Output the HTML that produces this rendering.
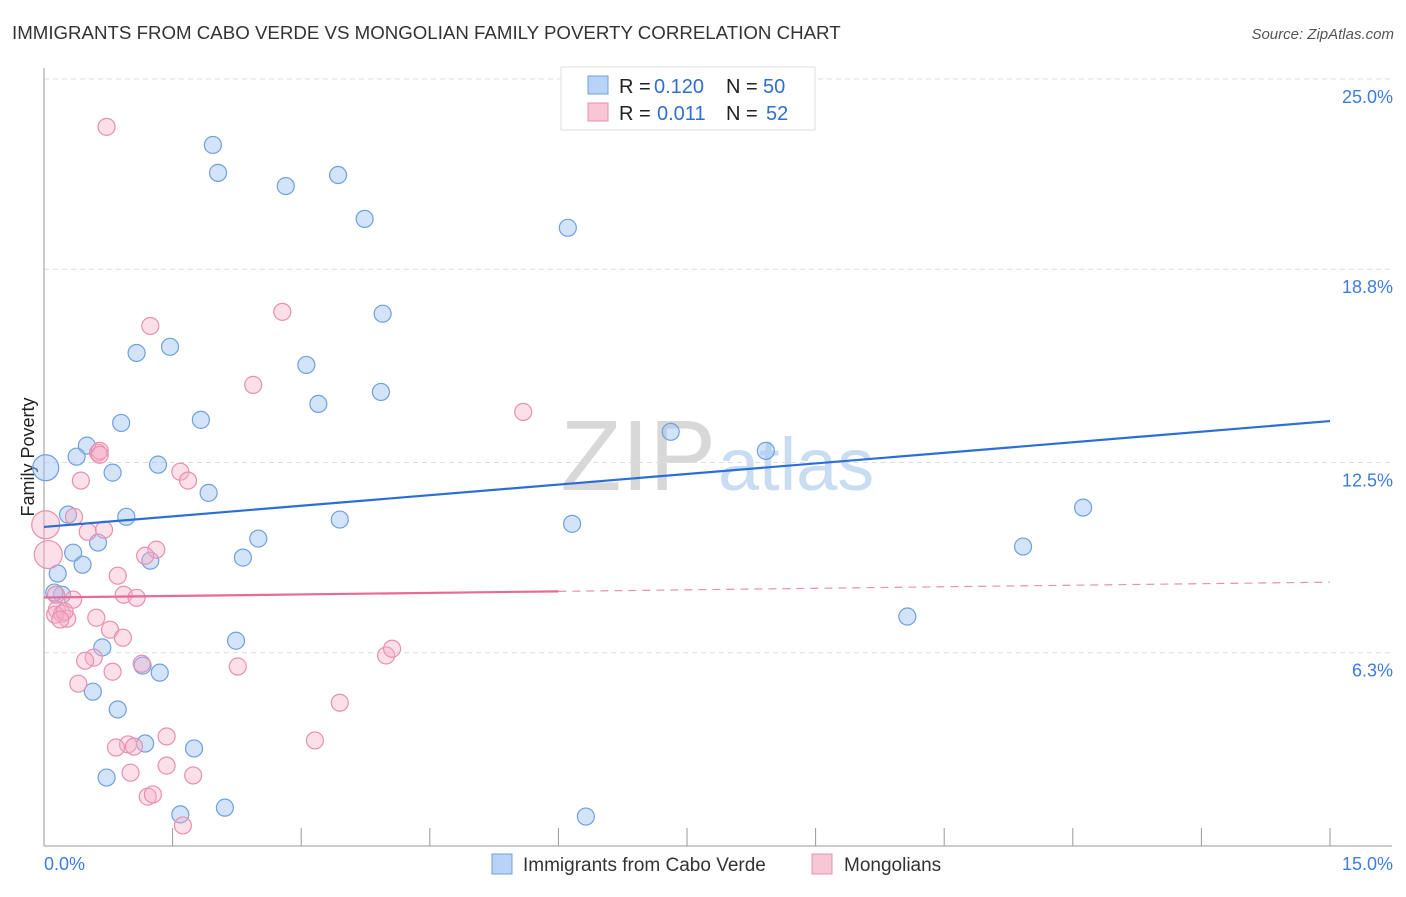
<!DOCTYPE html>
<html><head><meta charset="utf-8">
<style>
body{margin:0;background:#fff;font-family:"Liberation Sans",sans-serif;}
svg text{font-family:"Liberation Sans",sans-serif;}
</style></head>
<body>
<svg id="chart" width="1406" height="892" xmlns="http://www.w3.org/2000/svg">
<text x="12" y="39" font-size="18.7" fill="#333">IMMIGRANTS FROM CABO VERDE VS MONGOLIAN FAMILY POVERTY CORRELATION CHART</text>
<text x="1394" y="39" font-size="15" fill="#555" text-anchor="end" font-style="italic">Source: ZipAtlas.com</text>
<text x="716" y="490" font-size="100" fill="#d8d8d8" text-anchor="end" font-family="Liberation Serif">ZIP</text>
<text x="718" y="490" font-size="74" fill="#c8dcf2">atlas</text>
<text transform="translate(34,457) rotate(-90)" font-size="18" fill="#222" text-anchor="middle">Family Poverty</text>
<g id="grid"></g><g id="axes"></g><g id="pts"></g><g id="lines"></g>
<g>
<rect x="561" y="67" width="254" height="63" fill="#fff" stroke="#ddd"/>
<rect x="588" y="76" width="20" height="18" fill="#b8d3f5" stroke="#6fa0e0"/>
<text x="619" y="93" font-size="20" fill="#222">R =</text>
<text x="654" y="93" font-size="20" fill="#2f6fd0">0.120</text>
<text x="726" y="93" font-size="20" fill="#222">N =</text>
<text x="763" y="93" font-size="20" fill="#2f6fd0">50</text>
<rect x="588" y="103" width="20" height="18" fill="#f9c6d6" stroke="#e890b0"/>
<text x="619" y="120" font-size="20" fill="#222">R =</text>
<text x="657" y="120" font-size="20" fill="#2f6fd0">0.011</text>
<text x="726" y="120" font-size="20" fill="#222">N =</text>
<text x="766" y="120" font-size="20" fill="#2f6fd0">52</text>
</g>
<g>
<rect x="492" y="854" width="20" height="20" fill="#b8d3f5" stroke="#6fa0e0"/>
<text x="523" y="871" font-size="19" fill="#333">Immigrants from Cabo Verde</text>
<rect x="812" y="854" width="20" height="20" fill="#f9c6d6" stroke="#e890b0"/>
<text x="844" y="871" font-size="19" fill="#333">Mongolians</text>
</g>
</svg>
<script>
const yTicks=[25.0,18.8,12.5,6.3];
const yTickLabels=["25.0%","18.8%","12.5%","6.3%"];
const xMin=0,xMax=15;
const xTickLabels=["0.0%","15.0%"];
const blueX=[0.02,1.97,2.03,2.82,3.43,3.74,6.11,3.95,1.08,1.47,3.06,3.93,3.20,0.90,1.83,7.31,8.42,0.50,0.38,0.80,1.33,1.92,0.28,0.96,3.45,6.16,12.12,0.63,2.50,0.34,0.45,1.24,2.32,11.42,0.16,0.21,10.07,2.24,0.68,1.15,1.35,0.57,0.86,1.18,1.75,0.73,1.59,2.11,6.32,0.12];
const blueY=[12.33,22.85,21.94,21.51,21.87,20.44,20.15,17.35,16.07,16.27,15.68,14.8,14.41,13.79,13.89,13.5,12.88,13.05,12.69,12.17,12.43,11.51,10.8,10.73,10.64,10.5,11.03,9.89,10.02,9.56,9.17,9.30,9.40,9.76,8.88,8.19,7.48,6.69,6.47,5.88,5.65,5.03,4.45,3.34,3.18,2.23,1.03,1.25,0.96,8.26];
const blueBig=[0];
const pinkX=[0.73,2.78,1.24,2.44,5.59,0.63,0.65,0.43,1.59,1.68,0.35,0.51,0.70,0.02,0.05,1.31,1.18,0.86,0.93,1.08,0.34,0.15,0.21,0.27,0.13,0.61,0.77,0.92,0.24,0.58,0.48,1.14,0.80,2.26,3.99,4.06,0.40,3.45,1.43,0.98,0.84,1.05,3.16,1.43,1.01,1.74,1.21,1.27,1.62,0.14,0.19,0.65];
const pinkY=[23.44,17.41,16.95,15.03,14.15,12.82,12.88,11.91,12.20,11.91,10.73,10.24,10.31,10.47,9.50,9.66,9.46,8.81,8.19,8.09,8.03,7.70,7.57,7.41,7.54,7.44,7.05,6.79,7.64,6.14,6.04,5.94,5.68,5.85,6.21,6.43,5.29,4.67,3.57,3.31,3.21,3.24,3.44,2.62,2.39,2.30,1.61,1.68,0.67,8.19,7.38,12.75];
const pinkBig=[13,14];
const blueTrend=[10.4,13.85];
const pinkTrend=[8.1,8.6];
const pinkSolidEnd=6.0;

const NS="http://www.w3.org/2000/svg";
const X0=44,X1=1330,Y0=846,Y25=79;
const sx=v=>X0+(v-xMin)/(xMax-xMin)*(X1-X0);
const sy=v=>Y0-v/25*(Y0-Y25);
function mk(tag,attrs,parent){const e=document.createElementNS(NS,tag);for(const k in attrs)e.setAttribute(k,attrs[k]);document.getElementById(parent).appendChild(e);return e;}

yTicks.forEach((t,i)=>{
  const g=mk('line',{x1:X0,x2:1392,y1:sy(t),y2:sy(t),stroke:'#ddd','stroke-dasharray':'5,4'},'grid');
  
  
  const l=mk('text',{x:1393,y:sy(t)+24,'font-size':18,fill:'#3d7be0','text-anchor':'end'},'grid');
  l.textContent=yTickLabels[i];
  
  
});
const ax=mk('line',{x1:X0,x2:X0,y1:68,y2:Y0,stroke:'#999'},'axes');


const bx=mk('line',{x1:X0,x2:1392,y1:Y0,y2:Y0,stroke:'#999'},'axes');


for(let i=0;i<=10;i++){
  const v=xMin+i*(xMax-xMin)/10;
  const t=mk('line',{x1:sx(v),x2:sx(v),y1:Y0,y2:Y0-18,stroke:'#999'},'axes');
  
  
}
const xl0=mk('text',{x:44,y:870,'font-size':18,fill:'#3d7be0'},'axes');xl0.textContent=xTickLabels[0];


const xl1=mk('text',{x:1393,y:870,'font-size':18,fill:'#3d7be0','text-anchor':'end'},'axes');xl1.textContent=xTickLabels[1];



blueX.forEach((x,i)=>{
  const c=mk('circle',{cx:sx(x),cy:sy(blueY[i]),r:blueBig.includes(i)?13:8.5,fill:'rgba(160,196,240,0.45)',stroke:'#6fa0e0','stroke-width':1.2},'pts');
  
  
});
pinkX.forEach((x,i)=>{
  const c=mk('circle',{cx:sx(x),cy:sy(pinkY[i]),r:pinkBig.includes(i)?14:8.5,fill:'rgba(245,176,200,0.4)',stroke:'#e890b0','stroke-width':1.2},'pts');
  
  
});
const bl=mk('line',{x1:sx(xMin),y1:sy(blueTrend[0]),x2:sx(xMax),y2:sy(blueTrend[1]),stroke:'#2b6fd6','stroke-width':2.2},'lines');


const pAt=v=>pinkTrend[0]+(pinkTrend[1]-pinkTrend[0])*(v-xMin)/(xMax-xMin);
const pl=mk('line',{x1:sx(xMin),y1:sy(pinkTrend[0]),x2:sx(pinkSolidEnd),y2:sy(pAt(pinkSolidEnd)),stroke:'#e86a98','stroke-width':2.2},'lines');


const pd=mk('line',{x1:sx(pinkSolidEnd),y1:sy(pAt(pinkSolidEnd)),x2:sx(xMax),y2:sy(pinkTrend[1]),stroke:'#e890b0','stroke-width':1.2,'stroke-dasharray':'8,6'},'lines');


</script>
</body></html>
